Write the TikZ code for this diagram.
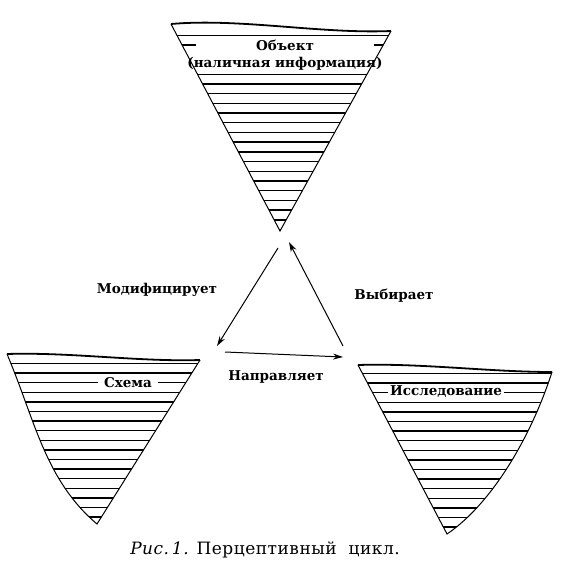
\documentclass[tikz,border=0pt]{standalone}
\usepackage{fontspec}
\setmainfont{DejaVu Serif}
\newfontfamily\capfont[LetterSpace=3]{DejaVu Serif}
\usetikzlibrary{arrows.meta}
\begin{document}
\begin{tikzpicture}[x=1pt,y=-1pt,
  edge/.style={line width=1pt},
  topedge/.style={line width=1.8pt},
  hatch/.style={line width=1.4pt},
  lbl/.style={font=\fontsize{13.5}{15}\selectfont\bfseries, inner sep=1pt},
  inlbl/.style={lbl, fill=white},
  conn/.style={line width=1pt, -{Stealth[length=10pt,width=6pt]}}]
\useasboundingbox (0,0) rectangle (561,585);
% ---------- top triangle ----------
\coordinate (t1) at (171,24);
\coordinate (t2) at (391,31);
\coordinate (t3) at (280,231);
\begin{scope}
  \clip (t1) -- (t2) -- (t3) -- cycle;
  \foreach \y in {35.5,74.3,84,...,231} \draw[hatch] (150,\y) -- (410,\y);
  \draw[hatch] (150,45.2) -- (196,45.2);
  \draw[hatch] (374,45.2) -- (410,45.2);
\end{scope}
\node[lbl] (obj) at (285,45) {Объект};
\node[lbl] (obj2) at (285,64) {(наличная информация)};
\draw[edge] (t2) -- (t3) -- (t1);
\draw[topedge] (t1) .. controls (240,18) and (320,34) .. (t2);
% ---------- left triangle ----------
\coordinate (l1) at (7,354);
\coordinate (l2) at (200,360);
\coordinate (l3) at (97,524);
\begin{scope}
  \clip (l1) -- (l2) -- (l3) .. controls (45,480) and (35,420) .. (l1) -- cycle;
  \foreach \y in {363.5,373.1,...,524} \draw[hatch] (0,\y) -- (210,\y);
\end{scope}
\node[inlbl, inner xsep=6pt] (sch) at (128,383) {Схема};
\draw[edge] (l2) -- (l3) .. controls (45,480) and (35,420) .. (l1);
\draw[topedge] (l1) .. controls (70,352) and (140,362) .. (l2);
% ---------- right triangle ----------
\coordinate (r1) at (358,365);
\coordinate (r2) at (552,372);
\coordinate (r3) at (447,534);
\begin{scope}
  \clip (r1) -- (r2) .. controls (530,440) and (490,505) .. (r3) -- cycle;
  \foreach \y in {373.5,383.1,...,534} \draw[hatch] (350,\y) -- (560,\y);
\end{scope}
\node[inlbl, inner xsep=2pt] (res) at (446,392) {Исследование};
\draw[edge] (r2) .. controls (530,440) and (490,505) .. (r3) -- (r1);
\draw[topedge] (r1) .. controls (420,363) and (490,372) .. (r2);
% ---------- connectors ----------
\coordinate (m1) at (278,248);
\coordinate (m2) at (217,346);
\coordinate (v1) at (343,346);
\coordinate (v2) at (289,242);
\coordinate (n1) at (225,352);
\coordinate (n2) at (343,357);
\draw[conn] (m1) -- (m2);
\draw[conn] (v1) -- (v2);
\draw[conn] (n1) -- (n2);
\node[lbl] (mod) at (157,290) {Модифицирует};
\node[lbl] (vyb) at (394,296) {Выбирает};
\node[lbl] (nap) at (276,377) {Направляет};
% ---------- caption ----------
\node[font=\fontsize{17}{19}\capfont] (cap) at (265,550) {{\itshape Рис.\,1.} Перцептивный\ \ цикл.};
\end{tikzpicture}
\end{document}
